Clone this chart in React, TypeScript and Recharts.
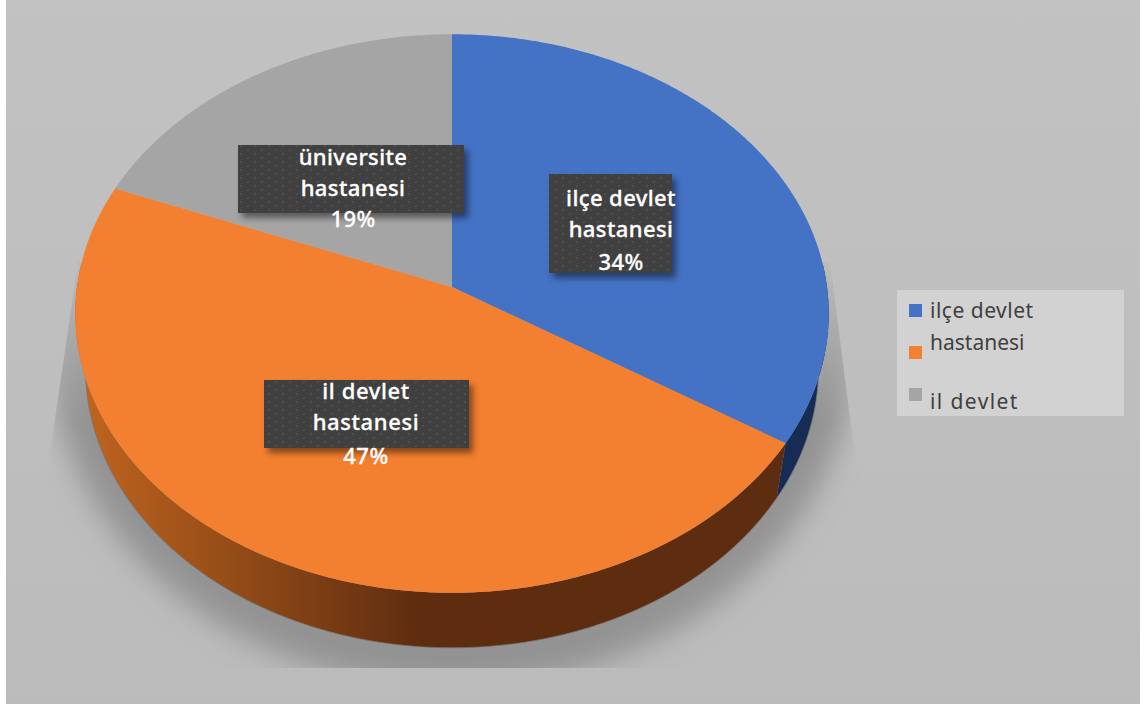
import { Legend, Pie, PieChart } from 'recharts'

const CATEGORIES = ['ilçe devlet hastanesi', 'il devlet hastanesi', 'üniversite hastanesi']
const SHARES = [34, 47, 19]
const LEGEND_LINES = ['ilçe devlet', 'hastanesi', 'il devlet']

const TOP_COLORS = ['#4472C4', '#F37F30', '#A5A5A5']
const WALL_COLORS = ['#162C55', 'url(#orangeWall)', '#5F5F5F']

const topData = CATEGORIES.map((name, i) => ({ name, value: SHARES[i], fill: TOP_COLORS[i] }))
const wallData = CATEGORIES.map((name, i) => ({ name, value: SHARES[i], fill: WALL_COLORS[i] }))

// perspective of the tilted disc
const TILT = 0.738
const FAR = 0.095
const DEPTH = 55
const FLOOR_SCALE = 0.973

const FONT = '"Noto Sans", sans-serif'

// label plates, in the same order as CATEGORIES
const PLATES = [
  { x: 549, y: 174, width: 123, height: 99, textX: 621, spacing: 0.4, lines: [197, 228, 261] },
  { x: 264, y: 380, width: 205, height: 68, textX: 366, spacing: 0.6, lines: [390, 421, 455] },
  { x: 238, y: 145, width: 226, height: 68, textX: 353, spacing: 0.4, lines: [156, 187, 218] },
]

const rad = (deg: number) => (deg * Math.PI) / 180

function project(r: number, deg: number) {
  const u = Math.cos(rad(deg))
  const v = Math.sin(rad(deg))
  const w = 1 + FAR * v
  return { x: (r * u) / w, y: (-r * TILT * v) / w }
}

function rimPoints(cx: number, cy: number, r: number, from: number, to: number, scale = 1, drop = 0) {
  const steps = Math.max(2, Math.ceil(Math.abs(from - to) * 2))
  const out: string[] = []
  for (let i = 0; i <= steps; i++) {
    const p = project(r, from + ((to - from) * i) / steps)
    out.push(`${(cx + p.x * scale).toFixed(2)} ${(cy + p.y + drop).toFixed(2)}`)
  }
  return out
}

function TopSlice(props: any) {
  const { cx, cy, outerRadius, startAngle, endAngle, fill } = props
  const pts = rimPoints(cx, cy, outerRadius, startAngle, endAngle)
  return <path d={`M${cx} ${cy}L${pts.join('L')}Z`} fill={fill} />
}

function WallSlice(props: any) {
  const { cx, cy, outerRadius, startAngle, endAngle, fill } = props
  const hi = Math.min(startAngle, 5)
  const lo = Math.max(endAngle, -185)
  if (hi <= lo) return null
  const upper = rimPoints(cx, cy, outerRadius, hi, lo)
  const lower = rimPoints(cx, cy, outerRadius, hi, lo, FLOOR_SCALE, DEPTH)
  return (
    <g>
      <path d={`M${upper.join('L')}L${[...lower].reverse().join('L')}Z`} fill={fill} />
      <path d={`M${lower.join('L')}`} fill="none" stroke="#777" strokeWidth={0.8} />
    </g>
  )
}

function SliceLabel(props: any) {
  const { index, name, value } = props
  const plate = PLATES[index]
  const cut = name.lastIndexOf(' ')
  const rows = [name.slice(0, cut), name.slice(cut + 1), `${value}%`]
  return (
    <g>
      <rect x={plate.x} y={plate.y} width={plate.width} height={plate.height} fill="#404040" filter="url(#plateShadow)" />
      <rect x={plate.x} y={plate.y} width={plate.width} height={plate.height} fill="url(#platePattern)" />
      {rows.map((row, i) => (
        <text
          key={row}
          x={plate.textX}
          y={plate.lines[i]}
          textAnchor="middle"
          dominantBaseline="central"
          fill="#FFFFFF"
          fontFamily={FONT}
          fontSize={22}
          fontWeight={500}
          letterSpacing={plate.spacing}
          stroke="#FFFFFF"
          strokeWidth={0.3}
        >
          {row}
        </text>
      ))}
    </g>
  )
}

function ChartLegend() {
  const rowTop = [304, 346, 388]
  const textTop = [310, 342, 401]
  const spacing = [0.5, 0, 1.4]
  return (
    <div style={{ position: 'relative', width: 227, height: 126, background: '#D2D2D2' }}>
      {TOP_COLORS.map((color, i) => (
        <div key={color} style={{ position: 'absolute', left: 12, top: rowTop[i] - 290, width: 13, height: 13, background: color }} />
      ))}
      {LEGEND_LINES.map((line, i) => (
        <div
          key={line}
          style={{
            position: 'absolute',
            left: 33,
            top: textTop[i] - 290 - 14,
            lineHeight: '28px',
            fontFamily: FONT,
            fontSize: 21,
            letterSpacing: spacing[i],
            color: '#404040',
            whiteSpace: 'nowrap',
          }}
        >
          {line}
        </div>
      ))}
    </div>
  )
}

export default function App() {
  return (
    <div style={{ position: 'fixed', left: 0, top: 0, width: 1144, height: 706, background: '#fff' }}>
      <div
        style={{
          position: 'absolute',
          left: 6,
          top: 0,
          width: 1134,
          height: 704,
          background: 'linear-gradient(#C2C2C2, #BBBBBB)',
        }}
      />
      <PieChart width={1144} height={706} margin={{ top: 0, right: 0, bottom: 0, left: 0 }} style={{ position: 'absolute', left: 0, top: 0 }}>
        <defs>
          <linearGradient id="orangeWall" gradientUnits="userSpaceOnUse" x1={80} y1={0} x2={420} y2={0}>
            <stop offset="0" stopColor="#C0651F" />
            <stop offset="1" stopColor="#5E2D0F" />
          </linearGradient>
          <linearGradient id="floorFade" gradientUnits="userSpaceOnUse" x1={0} y1={262} x2={0} y2={420}>
            <stop offset="0" stopColor="#fff" stopOpacity={0.1} />
            <stop offset="1" stopColor="#fff" stopOpacity={1} />
          </linearGradient>
          <mask id="floorMask" maskUnits="userSpaceOnUse" x={0} y={0} width={1144} height={706}>
            <path d="M78 262L830 262L858 480L858 668L46 668L46 480Z" fill="url(#floorFade)" />
          </mask>
          <filter id="floorBlur" x="-20%" y="-20%" width="140%" height="140%">
            <feGaussianBlur stdDeviation={14} />
          </filter>
          <filter id="plateShadow" x="-20%" y="-20%" width="140%" height="150%">
            <feDropShadow dx={4} dy={5} stdDeviation={3} floodColor="#000" floodOpacity={0.45} />
          </filter>
          <pattern id="platePattern" patternUnits="userSpaceOnUse" width={14} height={8}>
            <path d="M2 3L4 1M9 7L11 5" stroke="#5A5A5A" strokeWidth={1} />
          </pattern>
        </defs>
        <g mask="url(#floorMask)">
          <ellipse cx={452} cy={345} rx={402} ry={342} fill="#939393" filter="url(#floorBlur)" />
        </g>
        <Pie
          data={wallData}
          dataKey="value"
          nameKey="name"
          cx={452}
          cy={287}
          outerRadius={375}
          startAngle={90}
          endAngle={-270}
          stroke="none"
          legendType="none"
          shape={WallSlice}
          isAnimationActive={false}
        />
        <Pie
          data={topData}
          dataKey="value"
          nameKey="name"
          cx={452}
          cy={287}
          outerRadius={375}
          startAngle={90}
          endAngle={-270}
          stroke="none"
          shape={TopSlice}
          label={SliceLabel}
          labelLine={false}
          isAnimationActive={false}
        />
        <Legend
          layout="vertical"
          align="right"
          verticalAlign="middle"
          content={ChartLegend}
          wrapperStyle={{ left: 897, top: 290, right: 'auto', bottom: 'auto', width: 227, height: 126 }}
        />
      </PieChart>
    </div>
  )
}
